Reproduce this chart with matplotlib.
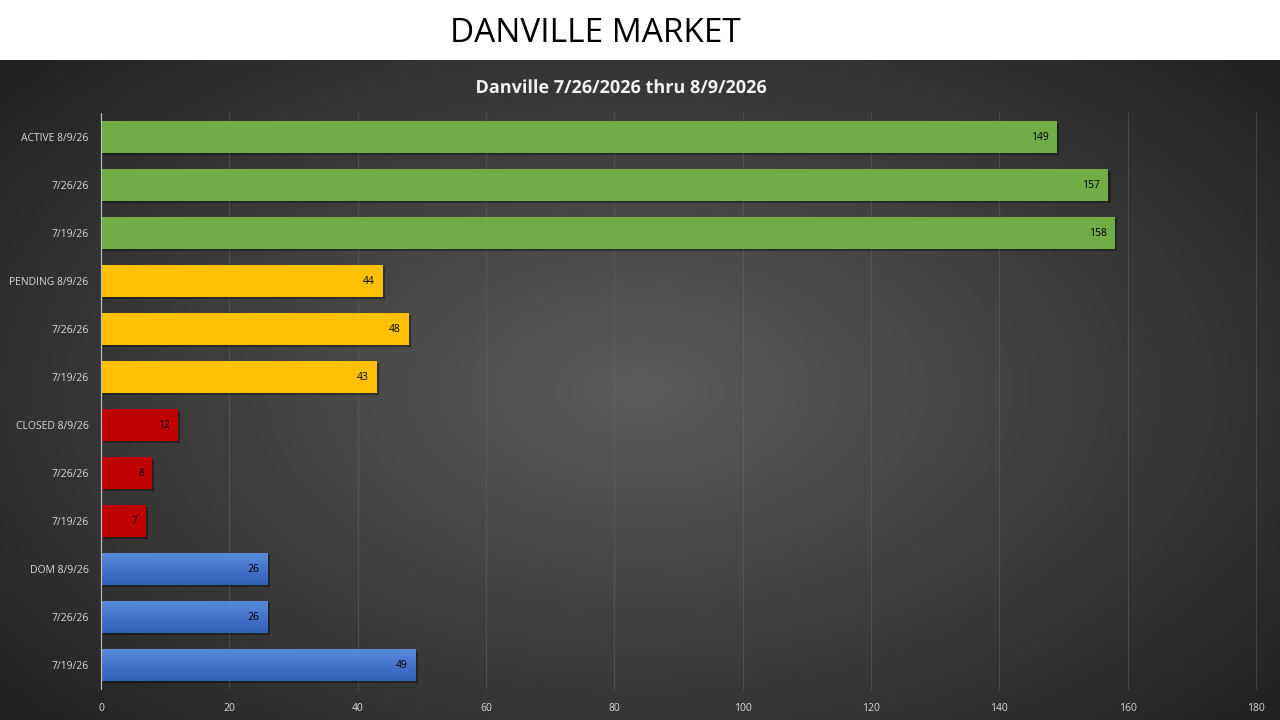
import numpy as np
import matplotlib
matplotlib.use("Agg")
import matplotlib.pyplot as plt
import matplotlib.patheffects as pe

# data, top to bottom as drawn
labels = ["ACTIVE 8/9/26", "7/26/26", "7/19/26",
          "PENDING 8/9/26", "7/26/26", "7/19/26",
          "CLOSED 8/9/26", "7/26/26", "7/19/26",
          "DOM 8/9/26", "7/26/26", "7/19/26"]
values = [149, 157, 158, 44, 48, 43, 12, 8, 7, 26, 26, 49]
groups = ["active"] * 3 + ["pending"] * 3 + ["closed"] * 3 + ["dom"] * 3
group_colors = {"active": "#70ad47", "pending": "#ffc000",
                "closed": "#c00000", "dom": "#4472c4"}
xticks = [0, 20, 40, 60, 80, 100, 120, 140, 160, 180]

plt.rcParams["font.family"] = ["Open Sans", "DejaVu Sans"]

fig = plt.figure(figsize=(12.8, 7.2), dpi=100)
fig.patch.set_facecolor("white")

# dark panel with radial gradient
bg = fig.add_axes([0, 0, 1, 660 / 720])
yy, xx = np.mgrid[0:1:330j, 0:1:640j]
r = np.sqrt(((xx - 0.5) / 0.75) ** 2 + ((yy - 0.5) / 0.85) ** 2)
shade = np.clip(0.36 - 0.26 * r, 0.13, 0.36)
bg.imshow(np.dstack([shade, shade, shade]), aspect="auto", extent=[0, 1, 0, 1],
          interpolation="bilinear")
bg.set_axis_off()

fig.text(0.465, 1 - 34 / 720, "DANVILLE MARKET", ha="center", va="center",
         fontsize=24, color="black")
fig.text(0.485, 1 - 88 / 720, "Danville 7/26/2026 thru 8/9/2026", ha="center",
         va="center", fontsize=13, fontweight="bold", color="#f2f2f2",
         path_effects=[pe.SimpleLineShadow(offset=(1, -1), alpha=0.5), pe.Normal()])

ax = fig.add_axes([101 / 1280, 1 - 689 / 720, (1256 - 101) / 1280, 576 / 720])
ax.set_facecolor("none")

ypos = np.arange(len(values))[::-1]
colors = [group_colors[g] for g in groups]
bars = ax.barh(ypos, values, height=0.67, color=colors, zorder=3,
               path_effects=[pe.SimplePatchShadow(offset=(1.5, -1.5), shadow_rgbFace="black", alpha=0.35),
                             pe.Normal()])

# vertical gradient on the blue bars
grad = np.linspace(0, 1, 64).reshape(-1, 1)
top = np.array([0x5b, 0x8b, 0xdc]) / 255
bot = np.array([0x2f, 0x5f, 0xb8]) / 255
grad_img = (top * (1 - grad)[..., None] + bot * grad[..., None])
for b, g in zip(bars, groups):
    if g == "dom":
        x0, y0, w, h = b.get_x(), b.get_y(), b.get_width(), b.get_height()
        im = ax.imshow(grad_img, extent=[x0, x0 + w, y0, y0 + h], origin="upper",
                       aspect="auto", zorder=3.5, interpolation="bilinear")
        im.set_clip_path(b)

for b, v in zip(bars, values):
    ax.annotate(str(v), (v, b.get_y() + b.get_height() / 2), xytext=(-6, 0),
                textcoords="offset points", ha="right", va="center",
                fontsize=7.5, color="black", zorder=5)

ax.set_xlim(0, 180)
ax.set_ylim(-0.5, len(values) - 0.5)
ax.set_xticks(xticks)
ax.set_yticks(ypos)
ax.set_yticklabels(labels)
ax.tick_params(axis="both", length=0, colors="#d9d9d9", labelsize=7.5)
ax.tick_params(axis="y", pad=9)
ax.tick_params(axis="x", pad=10)
ax.grid(axis="x", color="#6a6a6a", linewidth=0.8, alpha=0.45, zorder=0)
for gl in ax.get_xgridlines():
    gl.set_clip_on(False)
for s in ["top", "right", "bottom"]:
    ax.spines[s].set_visible(False)
ax.spines["left"].set_color("#bfbfbf")
ax.spines["left"].set_linewidth(0.8)
ax.spines["left"].set_zorder(4)

fig.savefig("out.png", dpi=100)
